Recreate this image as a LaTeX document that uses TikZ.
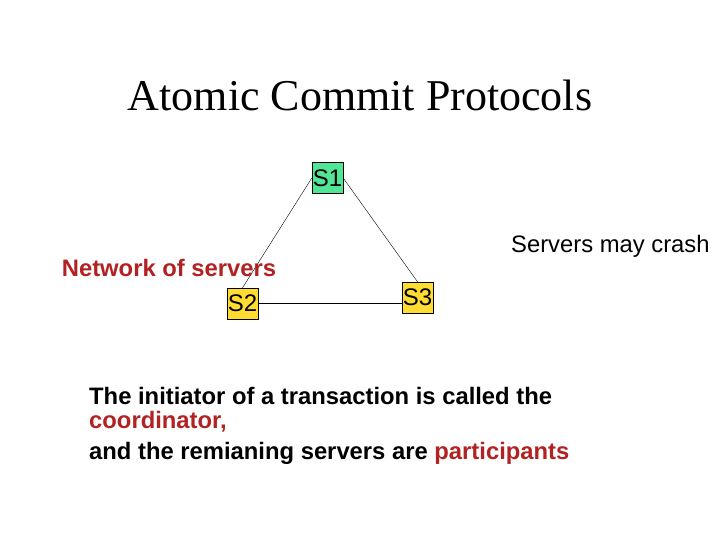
\documentclass[tikz,border=0pt]{standalone}
\usepackage{fontspec}
\setmainfont{Liberation Sans}
\newfontfamily\titlefont{Liberation Serif}
\definecolor{dred}{RGB}{178,34,34}
\definecolor{sgreen}{RGB}{80,230,150}
\definecolor{syellow}{RGB}{255,220,50}
\begin{document}
\begin{tikzpicture}[x=1pt,y=-1pt,
  srv/.style={draw,thin,minimum width=31pt,minimum height=31pt,inner sep=0pt,font=\fontsize{24}{24}\selectfont},
  lbl/.style={font=\fontsize{23.8}{24}\selectfont,inner sep=0pt}]
\useasboundingbox (0,0) rectangle (720,540);
\node[font=\titlefont\fontsize{44}{44}\selectfont] (title) at (360,95) {Atomic Commit Protocols};
\node[srv,fill=sgreen] (s1) at (327.5,178) {S1};
\node[srv,fill=syellow] (s2) at (242.5,303.5) {S2};
\node[srv,fill=syellow] (s3) at (417.5,297.5) {S3};
\draw[thin] (s1.west) -- (s2.north);
\draw[thin] (s1.east) -- (s3.north);
\draw[thin] (s2.east) -- (s3.west |- s2.east);
\node[lbl,text=dred,font=\bfseries\fontsize{23.8}{24}\selectfont] (net) at (169,268) {Network of servers};
\node[lbl,anchor=west] (crash) at (511,246) {Servers may crash};
\node[lbl,anchor=north west,align=left,font=\bfseries\fontsize{23.8}{27}\selectfont] (body) at (89,387)
 {The initiator of a transaction is called the\\[-3pt]
  \textcolor{dred}{coordinator,}\\[4pt]
  and the remianing servers are \textcolor{dred}{participants}};
\end{tikzpicture}
\end{document}
